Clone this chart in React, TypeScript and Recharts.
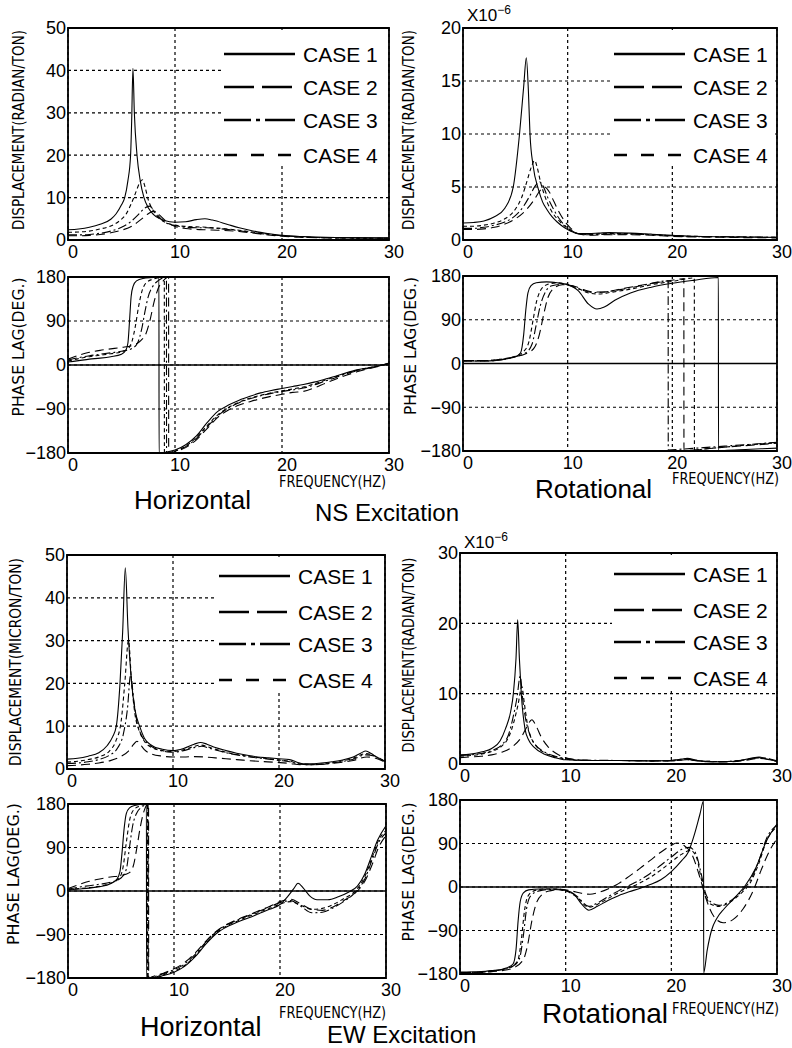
import { LineChart, Line, XAxis, YAxis, CartesianGrid, ReferenceLine, ReferenceArea, Legend } from 'recharts'

type Pt = [number, number]

const CASES = ['CASE 1', 'CASE 2', 'CASE 3', 'CASE 4']
const FREQ_TICKS = [0, 10, 20, 30]
const PHASE_TICKS = [-180, -90, 0, 90, 180]
const HOR_DISP_TICKS = [0, 10, 20, 30, 40, 50]
const NS_ROT_TICKS = [0, 5, 10, 15, 20]
const EW_ROT_TICKS = [0, 10, 20, 30]

// ---- NS excitation, horizontal displacement
const nsHorDisp1: Pt[] = [[0, 2.4], [1, 2.6], [2, 3.0], [3, 3.7], [4, 4.9], [4.5, 6.2], [5, 8.3], [5.3, 10], [5.6, 14], [5.85, 20], [5.95, 28], [6.07, 40.5], [6.2, 30], [6.45, 20], [6.75, 14], [7.1, 10], [7.5, 7.6], [8, 6.0], [8.5, 5.1], [9, 4.6], [10, 4.2], [11, 4.3], [12, 4.8], [12.8, 5.0], [13.5, 4.7], [15, 3.6], [16, 2.9], [17, 2.3], [18, 1.8], [19, 1.4], [20, 1.1], [22, 0.8], [25, 0.6], [30, 0.5]]
const nsHorDisp2: Pt[] = [[0, 1.0], [1, 1.0], [2, 1.1], [3, 1.3], [4, 1.7], [5, 2.3], [6, 3.3], [6.8, 4.8], [7.5, 6.2], [8, 6.8], [8.5, 6.0], [9, 4.8], [9.5, 3.8], [10, 3.2], [11, 2.7], [12, 2.5], [13, 2.4], [14, 2.3], [16, 2.0], [18, 1.4], [20, 0.9], [22, 0.6], [25, 0.5], [30, 0.4]]
const nsHorDisp3: Pt[] = [[0, 1.2], [1, 1.2], [2, 1.3], [3, 1.6], [4, 2.1], [5, 3.0], [5.8, 4.2], [6.5, 5.8], [7.1, 7.4], [7.6, 8.0], [8.1, 6.8], [8.6, 5.2], [9.2, 4.0], [10, 3.4], [11, 3.0], [12, 2.9], [13, 2.9], [14, 2.7], [16, 2.2], [18, 1.5], [20, 1.0], [22, 0.7], [25, 0.5], [30, 0.4]]
const nsHorDisp4: Pt[] = [[0, 1.8], [1, 1.9], [2, 2.1], [3, 2.6], [4, 3.3], [4.8, 4.5], [5.4, 6], [5.9, 8.5], [6.3, 11], [6.7, 13.5], [6.95, 14.2], [7.2, 12.5], [7.5, 9.5], [8, 6.8], [8.5, 5.2], [9, 4.3], [10, 3.5], [11, 3.2], [12, 3.1], [13, 3.0], [14, 2.8], [16, 2.3], [18, 1.6], [20, 1.0], [22, 0.7], [25, 0.5], [30, 0.4]]

// ---- NS excitation, horizontal phase
const nsHorPhase1: Pt[] = [[0, 6], [1, 9], [2, 12], [3, 14], [4, 17], [5, 22], [5.4, 30], [5.6, 45], [5.75, 90], [5.9, 140], [6.1, 162], [6.4, 172], [7, 177], [8, 179], [8.5, 180], [8.51, -180], [9, -179], [10, -174], [11, -163], [12, -145], [13, -118], [14, -95], [15, -82], [16, -72], [17, -64], [18, -57], [19, -52], [20, -48], [21, -44], [22, -40], [23, -35], [24, -29], [25, -23], [26, -16], [27, -10], [28, -6], [29, -2], [30, 4]]
const nsHorPhase2: Pt[] = [[0, 12], [1, 20], [2, 26], [3, 30], [4, 33], [5, 36], [6, 40], [6.8, 50], [7.3, 65], [7.7, 95], [8.0, 125], [8.4, 155], [8.9, 172], [9.4, 180], [9.41, -180], [10, -177], [11, -169], [12, -153], [13, -130], [14, -107], [15, -92], [16, -82], [17, -75], [18, -69], [19, -64], [20, -60], [21, -56], [22, -54], [23, -47], [24, -38], [25, -29], [26, -21], [27, -14], [28, -8], [29, -3], [30, 3]]
const nsHorPhase3: Pt[] = [[0, 10], [1, 15], [2, 19], [3, 22], [4, 25], [5, 28], [6, 34], [6.5, 45], [6.9, 75], [7.2, 110], [7.5, 140], [7.9, 160], [8.4, 172], [9.2, 180], [9.21, -180], [9.6, -178], [10, -176], [11, -167], [12, -150], [13, -127], [14, -104], [15, -88], [16, -77], [17, -69], [18, -63], [19, -58], [20, -54], [21, -51], [22, -47], [23, -41], [24, -33], [25, -26], [26, -18], [27, -12], [28, -7], [29, -2], [30, 3]]
const nsHorPhase4: Pt[] = [[0, 8], [1, 13], [2, 17], [3, 20], [4, 23], [5, 27], [5.6, 33], [6.0, 50], [6.3, 80], [6.6, 120], [6.9, 150], [7.3, 168], [8, 176], [9.0, 180], [9.01, -180], [9.5, -179], [10, -176], [11, -166], [12, -148], [13, -124], [14, -102], [15, -87], [16, -76], [17, -68], [18, -62], [19, -57], [20, -53], [21, -49], [22, -45], [23, -39], [24, -31], [25, -24], [26, -17], [27, -11], [28, -6], [29, -2], [30, 3]]

// ---- NS excitation, rotational displacement (x1e-6)
const nsRotDisp1: Pt[] = [[0, 1.6], [1, 1.65], [2, 1.8], [3, 2.2], [4, 3.0], [4.8, 5], [5.4, 10], [5.8, 14.5], [6.05, 17.2], [6.25, 14], [6.4, 10], [6.7, 7], [7.2, 4.8], [7.6, 3.6], [8, 2.9], [8.5, 2.2], [9, 1.7], [9.5, 1.3], [10, 1.0], [10.5, 0.75], [11, 0.6], [12, 0.6], [13, 0.65], [14, 0.7], [16, 0.65], [18, 0.55], [20, 0.45], [22, 0.35], [25, 0.3], [30, 0.25]]
const nsRotDisp2: Pt[] = [[0, 1.0], [1, 1.0], [2, 1.05], [3, 1.2], [4, 1.5], [5, 2.0], [6, 2.8], [6.8, 3.8], [7.4, 4.7], [7.8, 5.0], [8.2, 4.6], [8.7, 3.6], [9.2, 2.6], [9.7, 1.8], [10.3, 1.1], [11, 0.6], [12, 0.45], [14, 0.5], [16, 0.5], [18, 0.45], [20, 0.35], [22, 0.3], [25, 0.25], [30, 0.2]]
const nsRotDisp3: Pt[] = [[0, 1.1], [1, 1.1], [2, 1.2], [3, 1.4], [4, 1.7], [5, 2.3], [5.8, 3.2], [6.4, 4.2], [6.9, 5.1], [7.3, 5.5], [7.7, 5.0], [8.1, 4.0], [8.6, 3.0], [9.2, 2.0], [9.7, 1.4], [10.2, 1.0], [11, 0.6], [12, 0.5], [14, 0.55], [16, 0.55], [18, 0.5], [20, 0.4], [22, 0.3], [25, 0.3], [30, 0.25]]
const nsRotDisp4: Pt[] = [[0, 1.3], [1, 1.3], [2, 1.4], [3, 1.6], [4, 2.0], [5, 2.9], [5.6, 4.0], [6.1, 5.5], [6.5, 6.8], [6.85, 7.5], [7.1, 6.8], [7.4, 5.5], [7.8, 4.2], [8.3, 3.0], [9, 2.0], [9.5, 1.5], [10, 1.1], [10.5, 0.8], [11, 0.6], [12, 0.55], [14, 0.6], [16, 0.6], [18, 0.5], [20, 0.4], [22, 0.35], [25, 0.3], [30, 0.25]]

// ---- NS excitation, rotational phase
const nsRotPhase1: Pt[] = [[0, 5], [2, 5], [3, 6], [4, 9], [5, 14], [5.5, 22], [5.8, 60], [6.0, 110], [6.2, 145], [6.5, 160], [7, 166], [8, 168], [9, 166], [10, 162], [11, 150], [12, 122], [12.8, 112], [13.5, 116], [14.5, 130], [16, 145], [18, 157], [20, 165], [22, 171], [24.4, 177], [24.41, -180], [25, -179], [27, -177], [30, -174]]
const nsRotPhase2: Pt[] = [[0, 6], [2, 6], [3, 7], [4, 10], [5, 14], [6, 20], [6.8, 32], [7.3, 60], [7.7, 100], [8.1, 135], [8.7, 155], [9.5, 162], [10.5, 160], [11.5, 152], [12.5, 147], [13.5, 147], [15, 153], [17, 161], [19, 168], [21.1, 174], [21.11, -179], [23, -176], [25, -172], [27, -169], [30, -164]]
const nsRotPhase3: Pt[] = [[0, 5], [2, 5], [3, 6], [4, 9], [5, 14], [6, 22], [6.6, 40], [7.0, 80], [7.4, 120], [7.9, 148], [8.5, 160], [9.5, 163], [10.5, 158], [11.5, 150], [12.5, 146], [13.5, 147], [15, 152], [17, 160], [19.6, 170], [19.61, -178], [21, -176], [23, -173], [25, -170], [27, -167], [30, -162]]
const nsRotPhase4: Pt[] = [[0, 6], [2, 6], [3, 7], [4, 10], [5, 15], [5.8, 25], [6.3, 45], [6.7, 90], [7.0, 125], [7.4, 150], [8, 162], [9, 166], [10, 163], [11, 155], [12, 145], [13, 143], [14, 146], [16, 153], [18, 162], [20, 169], [22.1, 176], [22.11, -178], [23, -176], [25, -172], [27, -168], [30, -163]]

// ---- EW excitation, horizontal displacement
const ewHorDisp1: Pt[] = [[0, 2.3], [1, 2.5], [2, 3.0], [3, 3.8], [3.8, 5.5], [4.3, 7.5], [4.65, 10], [5.0, 20], [5.25, 32], [5.5, 47], [5.75, 33], [6.1, 20], [6.4, 14], [6.85, 10], [7.3, 7.2], [8, 5.5], [9, 4.6], [10, 4.3], [11, 4.8], [12, 5.8], [12.6, 6.2], [13.2, 5.8], [14, 5.0], [15, 4.3], [16, 3.7], [17, 3.2], [18, 2.8], [19, 2.6], [20, 2.4], [21, 2.2], [21.7, 1.6], [22.3, 1.2], [23, 1.2], [24, 1.4], [25, 1.7], [26, 2.1], [27, 2.8], [27.7, 3.7], [28.2, 4.2], [28.7, 3.6], [29.3, 2.6], [30, 1.9]]
const ewHorDisp2: Pt[] = [[0, 0.8], [1, 0.9], [2, 1.1], [3, 1.4], [4, 1.9], [5, 2.8], [5.8, 4.2], [6.3, 5.8], [6.6, 6.5], [6.9, 5.8], [7.3, 4.5], [8, 3.5], [9, 3.0], [10, 2.8], [11, 2.8], [12, 2.9], [13, 2.8], [14, 2.6], [16, 2.2], [18, 1.8], [20, 1.5], [21, 1.3], [22, 1.0], [23, 1.0], [25, 1.3], [27, 2.0], [28.3, 2.8], [29, 2.6], [30, 1.6]]
const ewHorDisp3: Pt[] = [[0, 1.3], [1, 1.4], [2, 1.7], [3, 2.2], [4, 3.2], [4.8, 5.0], [5.3, 8], [5.7, 14], [6.0, 22], [6.3, 16], [6.6, 11], [7.0, 8], [7.6, 6.0], [8.5, 4.6], [9.5, 4.0], [10, 3.9], [11, 4.3], [12, 5.0], [12.7, 5.3], [13.5, 4.8], [15, 3.8], [17, 2.9], [19, 2.3], [20, 2.0], [21, 1.7], [22, 1.1], [23, 1.0], [25, 1.4], [27, 2.3], [28.2, 3.3], [29, 3.0], [30, 1.7]]
const ewHorDisp4: Pt[] = [[0, 1.6], [1, 1.8], [2, 2.2], [3, 2.8], [4, 4.2], [4.6, 6.5], [5.1, 11], [5.45, 20], [5.8, 30], [6.1, 20], [6.4, 13], [6.8, 9], [7.3, 6.5], [8, 5.0], [9, 4.3], [10, 4.1], [11, 4.5], [12, 5.3], [12.6, 5.6], [13.5, 5.0], [15, 3.9], [17, 3.0], [19, 2.4], [20, 2.1], [21, 1.8], [22, 1.2], [23, 1.1], [25, 1.5], [27, 2.5], [28.2, 3.6], [29, 3.1], [30, 1.8]]

// ---- EW excitation, horizontal phase
const ewHorPhase1: Pt[] = [[0, 2], [1, 4], [2, 6], [3, 9], [4, 15], [4.6, 24], [4.9, 40], [5.1, 80], [5.3, 130], [5.5, 160], [5.8, 172], [6.3, 177], [7.4, 180], [7.41, -180], [8, -180], [9, -175], [10, -168], [11, -156], [12, -136], [13, -110], [14, -88], [15, -74], [16, -64], [17, -56], [18, -47], [19, -38], [20, -28], [20.7, -12], [21.3, 5], [21.7, 16], [22.2, 6], [22.8, -10], [23.5, -18], [24.5, -18], [25.5, -12], [26.5, -2], [27.3, 10], [28, 35], [28.6, 70], [29.2, 105], [30, 135]]
const ewHorPhase2: Pt[] = [[0, 5], [1, 13], [2, 20], [3, 25], [4, 29], [5, 32], [5.8, 38], [6.2, 55], [6.5, 90], [6.8, 130], [7.1, 160], [7.6, 180], [7.61, -180], [8, -177], [9, -170], [10, -161], [11, -148], [12, -128], [13, -104], [14, -83], [15, -69], [16, -59], [17, -50], [18, -41], [19, -32], [20, -22], [21, -17], [22, -27], [23, -38], [24, -40], [25, -33], [26, -20], [27, -6], [28, 20], [28.7, 55], [29.3, 90], [30, 115]]
const ewHorPhase3: Pt[] = [[0, 4], [1, 8], [2, 11], [3, 14], [4, 18], [5, 27], [5.5, 45], [5.8, 90], [6.1, 135], [6.5, 162], [7, 174], [7.55, 180], [7.56, -180], [8, -178], [9, -171], [10, -163], [11, -151], [12, -131], [13, -106], [14, -84], [15, -70], [16, -60], [17, -51], [18, -42], [19, -33], [20, -24], [21, -20], [22, -32], [23, -45], [24, -44], [25, -35], [26, -22], [27, -5], [28, 25], [28.7, 65], [29.3, 100], [30, 120]]
const ewHorPhase4: Pt[] = [[0, 3], [1, 5], [2, 7], [3, 10], [4, 16], [4.8, 26], [5.2, 50], [5.5, 100], [5.8, 145], [6.2, 168], [6.8, 176], [7.5, 180], [7.51, -180], [8, -179], [9, -173], [10, -166], [11, -154], [12, -134], [13, -108], [14, -86], [15, -72], [16, -62], [17, -53], [18, -44], [19, -36], [20, -27], [21, -22], [22, -30], [23, -38], [24, -36], [25, -28], [26, -16], [27, -2], [28, 30], [28.7, 70], [29.3, 105], [30, 125]]

// ---- EW excitation, rotational displacement (x1e-6)
const ewRotDisp1: Pt[] = [[0, 1.3], [1, 1.4], [2, 1.7], [3, 2.2], [3.8, 3.3], [4.3, 5], [4.8, 7.5], [5.05, 10], [5.3, 15], [5.46, 20.5], [5.62, 15], [5.8, 10], [6.15, 5], [6.5, 3.4], [7, 2.4], [8, 1.4], [9, 0.9], [10, 0.6], [12, 0.5], [15, 0.5], [18, 0.45], [20, 0.5], [21, 0.7], [21.5, 0.8], [22.5, 0.5], [24, 0.3], [26, 0.4], [27.5, 0.8], [28.3, 1.0], [29, 0.7], [30, 0.4]]
const ewRotDisp2: Pt[] = [[0, 0.9], [1, 1.0], [2, 1.1], [3, 1.3], [4, 1.7], [5, 2.5], [5.8, 3.8], [6.3, 5.2], [6.8, 6.3], [7.2, 5.4], [7.7, 3.8], [8.3, 2.5], [9, 1.6], [10, 0.9], [11, 0.6], [13, 0.5], [15, 0.5], [18, 0.45], [20, 0.45], [21.5, 0.6], [23, 0.35], [25, 0.3], [27, 0.5], [28.3, 0.8], [30, 0.35]]
const ewRotDisp3: Pt[] = [[0, 1.2], [1, 1.3], [2, 1.5], [3, 1.9], [4, 2.8], [4.6, 4.2], [5.0, 6.5], [5.4, 9.5], [5.7, 12.5], [5.95, 9], [6.2, 6.5], [6.6, 4.2], [7.1, 2.8], [8, 1.7], [9, 1.1], [10, 0.8], [12, 0.55], [15, 0.5], [18, 0.45], [20, 0.5], [21.3, 0.7], [23, 0.4], [25, 0.35], [27, 0.6], [28.3, 0.9], [30, 0.45]]
const ewRotDisp4: Pt[] = [[0, 1.1], [1, 1.2], [2, 1.4], [3, 1.8], [4, 2.6], [4.6, 3.8], [5.1, 6], [5.5, 8.5], [5.85, 11], [6.1, 8.5], [6.4, 5.5], [6.8, 3.5], [7.3, 2.4], [8, 1.6], [9, 1.0], [10, 0.7], [12, 0.5], [15, 0.5], [18, 0.45], [20, 0.45], [21.5, 0.6], [23, 0.4], [25, 0.35], [27, 0.6], [28.3, 0.9], [30, 0.4]]

// ---- EW excitation, rotational phase
const ewRotPhase1: Pt[] = [[0, -176], [2, -175], [3, -173], [4, -170], [5, -160], [5.3, -130], [5.5, -70], [5.7, -30], [6, -12], [6.5, -6], [7.5, -4], [9, -4], [10, -7], [10.8, -15], [11.5, -35], [12.2, -48], [13, -40], [14, -28], [15, -18], [16, -10], [17, -3], [18, 5], [19, 15], [20, 32], [21, 55], [21.6, 72], [22.2, 110], [22.7, 150], [23.05, 178], [23.06, -178], [23.4, -130], [23.8, -90], [24.3, -65], [25, -45], [26, -22], [27, 3], [28, 40], [29, 95], [30, 130]]
const ewRotPhase2: Pt[] = [[0, -178], [2, -177], [3, -175], [4, -173], [5, -168], [6, -150], [6.4, -120], [6.8, -70], [7.2, -35], [7.8, -15], [8.5, -8], [9.5, -5], [10.5, -8], [11.5, -13], [12.3, -15], [13, -12], [14, -4], [15, 7], [16, 22], [17, 38], [18, 55], [19, 72], [20, 86], [20.5, 91], [21.2, 86], [22, 65], [22.7, 20], [23.3, -25], [24, -60], [24.9, -74], [25.8, -68], [26.8, -45], [27.8, -5], [28.5, 35], [29.3, 75], [30, 100]]
const ewRotPhase3: Pt[] = [[0, -177], [2, -176], [3, -174], [4, -171], [5, -164], [5.6, -150], [6.0, -100], [6.3, -45], [6.7, -18], [7.5, -8], [8.5, -5], [10, -8], [11, -18], [12.2, -40], [13, -33], [14, -20], [15, -8], [16, 3], [17, 14], [18, 28], [19, 45], [20, 62], [21, 78], [21.7, 82], [22.3, 70], [22.8, 30], [23.2, -10], [23.8, -32], [24.5, -38], [25.5, -30], [26.5, -12], [27.5, 15], [28.3, 55], [29, 100], [30, 128]]
const ewRotPhase4: Pt[] = [[0, -177], [2, -176], [3, -174], [4, -171], [5, -163], [5.5, -150], [5.8, -110], [6.1, -50], [6.4, -20], [7, -8], [8, -4], [9, -4], [10, -8], [11, -20], [12.2, -42], [13, -36], [14, -24], [15, -12], [16, -2], [17, 8], [18, 20], [19, 35], [20, 52], [21, 68], [21.8, 76], [22.4, 60], [22.8, 20], [23.2, -15], [23.7, -35], [24.5, -40], [25.5, -32], [26.5, -15], [27.5, 10], [28.3, 50], [29, 95], [30, 125]]

const FONT = '"Liberation Sans", Arial, Helvetica, sans-serif'
const NARROW = '"Liberation Sans Narrow", "DejaVu Sans Condensed", "Liberation Sans", sans-serif'

// line styles: solid, long dash, dash-dot, short dash
const PLOT_DASH = ['', '9 5', '9 3 2 3', '4 3']
const KEY_DASH = ['', '30 8', '27 5 4 5 30', '13 14']

const fmtTick = (v: number) => (v < 0 ? `\u2212${-v}` : `${v}`)

interface KeyBox {
  left: number
  width: number
  height: number
  rows: number[]
}

interface PanelProps {
  x: number
  y: number
  w: number
  h: number
  domain: [number, number]
  ticks: number[]
  series: Pt[][]
  phase?: boolean
  keyBox?: KeyBox
}

function Panel({ x, y, w, h, domain, ticks, series, phase, keyBox }: PanelProps) {
  return (
    <div style={{ position: 'absolute', left: x - 60, top: y - 10 }}>
      <LineChart width={w + 86} height={h + 40} margin={{ top: 10, right: 26, bottom: 0, left: 0 }}>
        <CartesianGrid stroke="#000" strokeDasharray="3 3" strokeWidth={1.2} />
        <XAxis
          type="number"
          dataKey="f"
          domain={[0, 30]}
          ticks={FREQ_TICKS}
          interval={0}
          allowDataOverflow
          axisLine={false}
          tickLine={false}
          tickSize={4}
          tickMargin={1}
          height={30}
          tick={{ fill: '#000', fontSize: 18, fontFamily: FONT, dx: 5 }}
        />
        <YAxis
          type="number"
          domain={domain}
          ticks={ticks}
          interval={0}
          allowDataOverflow
          axisLine={false}
          tickLine={false}
          tickSize={1}
          tickMargin={1}
          width={60}
          tickFormatter={fmtTick}
          tick={{ fill: '#000', fontSize: 18, fontFamily: FONT }}
        />
        {phase && <ReferenceLine y={0} stroke="#000" strokeWidth={1.5} />}
        {series.map((s, i) => (
          <Line
            key={CASES[i]}
            name={CASES[i]}
            data={s.map(([f, v]) => ({ f, v }))}
            dataKey="v"
            type="monotone"
            stroke="#000"
            strokeWidth={1.1}
            strokeDasharray={PLOT_DASH[i] || undefined}
            dot={false}
            activeDot={false}
            isAnimationActive={false}
          />
        ))}
        <ReferenceArea x1={0} x2={30} y1={domain[0]} y2={domain[1]} fill="none" stroke="#000" strokeWidth={1.8} ifOverflow="visible" />
        {keyBox && (
          <Legend
            layout="vertical"
            align="center"
            verticalAlign="middle"
            wrapperStyle={{ left: 60 + keyBox.left, top: 11.5, width: keyBox.width, height: keyBox.height, background: '#fff', lineHeight: 0 }}
            content={() => (
              <svg width={keyBox.width} height={keyBox.height} style={{ overflow: 'visible' }}>
                {CASES.map((c, i) => (
                  <g key={c}>
                    <line x1={2} x2={73} y1={keyBox.rows[i]} y2={keyBox.rows[i]} stroke="#000" strokeWidth={2.6} strokeDasharray={KEY_DASH[i] || undefined} />
                    <text x={81} y={keyBox.rows[i]} dominantBaseline="central" fontSize={21} fontFamily={FONT} fill="#000">
                      {c}
                    </text>
                  </g>
                ))}
              </svg>
            )}
          />
        )}
      </LineChart>
    </div>
  )
}

function VLabel({ x, cy, len, text }: { x: number; cy: number; len: number; text: string }) {
  return (
    <text
      transform={`translate(${x},${cy}) rotate(-90)`}
      textAnchor="middle"
      fontSize={16}
      fontFamily={NARROW}
      textLength={len}
      lengthAdjust="spacingAndGlyphs"
      fill="#000"
    >
      {text}
    </text>
  )
}

function FreqLabel({ x, y }: { x: number; y: number }) {
  return (
    <text x={x} y={y} fontSize={16} fontFamily={NARROW} textLength={107} lengthAdjust="spacingAndGlyphs" fill="#000">
      FREQUENCY(HZ)
    </text>
  )
}

function Scale({ x, y }: { x: number; y: number }) {
  return (
    <text x={x} y={y} fontSize={17} fontFamily={FONT} fill="#000">
      X10
      <tspan dy={-7} fontSize={12}>
        {'\u22126'}
      </tspan>
    </text>
  )
}

const topKey = { width: 166, height: 134, rows: [24, 57, 90, 125] }
const botKey = { width: 166, height: 136, rows: [19, 55, 87, 123] }

export default function App() {
  return (
    <div style={{ position: 'absolute', left: 0, top: 0, width: 792, height: 1048, background: '#fff', overflow: 'hidden' }}>
      <Panel x={68} y={28} w={321} h={212} domain={[0, 50]} ticks={HOR_DISP_TICKS}
        series={[nsHorDisp1, nsHorDisp2, nsHorDisp3, nsHorDisp4]} keyBox={{ left: 154, ...topKey }} />
      <Panel x={68} y={277} w={321} h={176} domain={[-180, 180]} ticks={PHASE_TICKS} phase
        series={[nsHorPhase1, nsHorPhase2, nsHorPhase3, nsHorPhase4]} />
      <Panel x={463} y={28} w={314} h={212} domain={[0, 20]} ticks={NS_ROT_TICKS}
        series={[nsRotDisp1, nsRotDisp2, nsRotDisp3, nsRotDisp4]} keyBox={{ left: 149, ...topKey, width: 163 }} />
      <Panel x={463} y={276} w={314} h={175} domain={[-180, 180]} ticks={PHASE_TICKS} phase
        series={[nsRotPhase1, nsRotPhase2, nsRotPhase3, nsRotPhase4]} />
      <Panel x={67} y={555} w={318} h={214} domain={[0, 50]} ticks={HOR_DISP_TICKS}
        series={[ewHorDisp1, ewHorDisp2, ewHorDisp3, ewHorDisp4]} keyBox={{ left: 150, ...botKey }} />
      <Panel x={68} y={804} w={318} h={174} domain={[-180, 180]} ticks={PHASE_TICKS} phase
        series={[ewHorPhase1, ewHorPhase2, ewHorPhase3, ewHorPhase4]} />
      <Panel x={460} y={553} w={317} h={211} domain={[0, 30]} ticks={EW_ROT_TICKS}
        series={[ewRotDisp1, ewRotDisp2, ewRotDisp3, ewRotDisp4]} keyBox={{ left: 152, ...botKey, width: 163 }} />
      <Panel x={460} y={800} w={317} h={174} domain={[-180, 180]} ticks={PHASE_TICKS} phase
        series={[ewRotPhase1, ewRotPhase2, ewRotPhase3, ewRotPhase4]} />

      <svg width={792} height={1048} style={{ position: 'absolute', left: 0, top: 0, pointerEvents: 'none' }}>
        <VLabel x={24} cy={130} len={200} text="DISPLACEMENT(RADIAN/TON)" />
        <VLabel x={24} cy={347} len={139} text="PHASE LAG(DEG.)" />
        <VLabel x={414} cy={130} len={200} text="DISPLACEMENT(RADIAN/TON)" />
        <VLabel x={416} cy={346} len={138} text="PHASE LAG(DEG.)" />
        <VLabel x={21} cy={662} len={208} text="DISPLACEMENT(MICRON/TON)" />
        <VLabel x={19} cy={874} len={142} text="PHASE LAG(DEG.)" />
        <VLabel x={414} cy={655} len={195} text="DISPLACEMENT(RADIAN/TON)" />
        <VLabel x={414} cy={872} len={139} text="PHASE LAG(DEG.)" />

        <Scale x={467} y={21} />
        <Scale x={464} y={548} />

        <FreqLabel x={279} y={487} />
        <FreqLabel x={672} y={484} />
        <FreqLabel x={279} y={1018} />
        <FreqLabel x={672} y={1014} />

        <text x={134} y={509} fontSize={26} fontFamily={FONT} fill="#000">Horizontal</text>
        <text x={315} y={521} fontSize={24} fontFamily={FONT} fill="#000">NS Excitation</text>
        <text x={535} y={498} fontSize={26} fontFamily={FONT} fill="#000">Rotational</text>
        <text x={140} y={1036} fontSize={27} fontFamily={FONT} fill="#000">Horizontal</text>
        <text x={327} y={1043} fontSize={24} fontFamily={FONT} fill="#000">EW Excitation</text>
        <text x={542} y={1023} fontSize={28} fontFamily={FONT} fill="#000">Rotational</text>
      </svg>
    </div>
  )
}
